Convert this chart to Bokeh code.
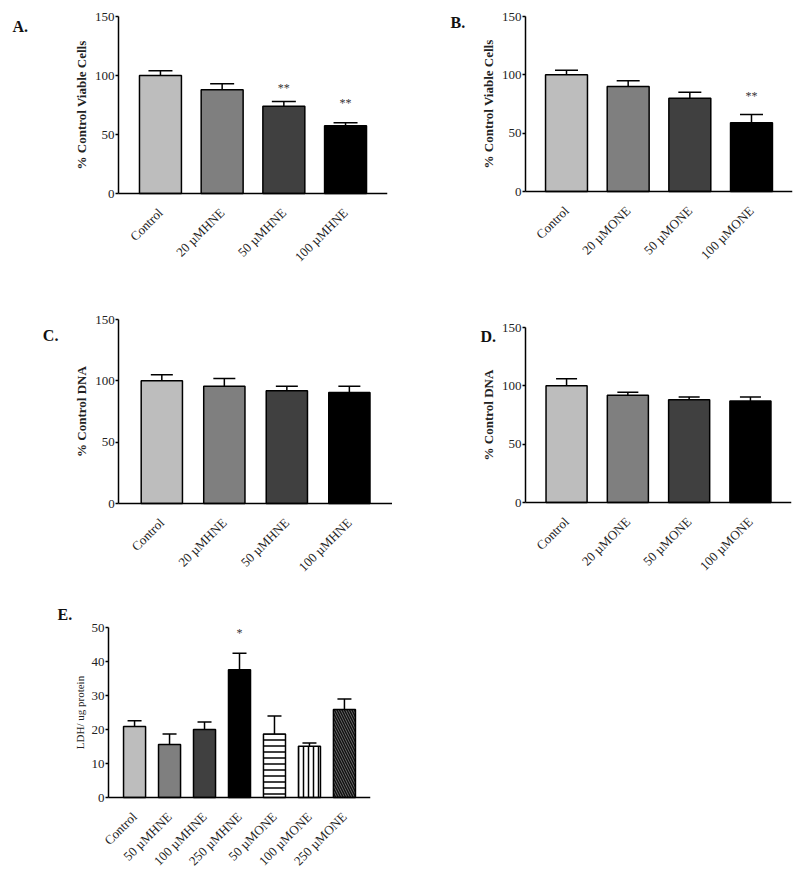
import math
from bokeh.plotting import figure
from bokeh.models import (Whisker, TeeHead, ColumnDataSource, FixedTicker, Range1d)
from bokeh.layouts import column, row
from bokeh.embed import file_html
from bokeh.resources import INLINE
from bokeh.core.properties import value

FONT = "Liberation Serif"

# ---------------- data ----------------
cats_A = ["Control", "20 µMHNE", "50 µMHNE", "100 µMHNE"]
vals_A = [100, 88, 74, 57.5]
errs_A = [4, 5, 4, 2.5]
stars_A = ["", "", "**", "**"]
star_y_A = [0, 0, 89, 76.5]

cats_B = ["Control", "20 µMONE", "50 µMONE", "100 µMONE"]
vals_B = [100, 90, 80, 59]
errs_B = [4, 5, 5, 7]
stars_B = ["", "", "", "**"]
star_y_B = [0, 0, 0, 82]

cats_C = ["Control", "20 µMHNE", "50 µMHNE", "100 µMHNE"]
vals_C = [100, 95.5, 92, 90.5]
errs_C = [5, 6.5, 3.5, 5]

cats_D = ["Control", "20 µMONE", "50 µMONE", "100 µMONE"]
vals_D = [100, 92, 88, 87]
errs_D = [6, 2.5, 2.5, 3.5]

cats_E = ["Control", "50 µMHNE", "100 µMHNE", "250 µMHNE",
          "50 µMONE", "100 µMONE", "250 µMONE"]
vals_E = [20.9, 15.6, 20.0, 37.6, 18.7, 15.1, 25.9]
errs_E = [1.7, 3.1, 2.2, 4.8, 5.3, 0.9, 3.1]
stars_E = ["", "", "", "*", "", "", ""]
star_y_E = [0, 0, 0, 48.5, 0, 0, 0]

ticks_150 = [0, 50, 100, 150]
ticks_50 = [0, 10, 20, 30, 40, 50]

# ---------------- styles ----------------
grey4 = ["#bdbdbd", "#7f7f7f", "#404040", "#000000"]
colors_E = ["#bdbdbd", "#7f7f7f", "#404040", "#000000", "#ffffff", "#ffffff", "#6e6e6e"]
hatch_E = ["blank", "blank", "blank", "blank",
           "horizontal_line", "vertical_line", "left_diagonal_line"]
hatch_col_E = ["black"] * 6 + ["#111111"]
hatch_scale_E = [6, 6, 6, 6, 6, 5, 5]
hatch_weight_E = [1.5, 1.5, 1.5, 1.5, 1.5, 1.5, 1.5]


def panel(cats, vals, errs, colors, ylabel, yticks, geom, bar_w, cap_px,
          letter, letter_px, stars=None, star_y=None, hatch=None,
          label_size="13px", label_bold=True, label_standoff=3):
    # geom: figure W, H; y-axis x (L), x-axis right end (R), y of top tick (T),
    # y of zero (B) in figure pixels; side padding in category units
    W, H, L, R, T, B, side = geom
    n = len(cats)
    ymax = yticks[-1]
    ppu = (R - L) / (n + 2 * side)
    ppy = (B - T) / ymax
    x_axis_start = -0.5 - side
    x_end = n - 0.5 + side
    x_start = x_axis_start - L / ppu
    y_end = ymax + T / ppy
    y_start = -(H - B) / ppy

    p = figure(width=W, height=H,
               x_range=Range1d(x_start, x_end), y_range=Range1d(y_start, y_end),
               output_backend="svg", toolbar_location=None,
               min_border_left=0, min_border_top=0,
               min_border_right=W - R, min_border_bottom=0)
    p.outline_line_color = None
    p.xgrid.visible = False
    p.ygrid.visible = False
    p.background_fill_color = "white"
    p.border_fill_color = "white"

    xs = list(range(n))
    data = dict(x=xs, vals=vals, tops=[v + e for v, e in zip(vals, errs)],
                colors=colors)
    if hatch is not None:
        data.update(hatch)
    src = ColumnDataSource(data)
    kw = dict(x="x", top="vals", width=bar_w, bottom=0, source=src,
              fill_color="colors", line_color="black", line_width=1.5)
    if hatch is not None:
        kw.update(hatch_pattern="hp", hatch_color="hc", hatch_scale="hs",
                  hatch_weight="hw")
    p.vbar(**kw)

    wh = Whisker(base="x", lower="vals", upper="tops", source=src,
                 dimension="height", lower_head=None,
                 upper_head=TeeHead(size=cap_px, line_width=1.5, line_color="black"),
                 line_width=1.5, line_color="black")
    p.add_layout(wh)

    if stars is not None:
        sx = [i for i, s in zip(xs, stars) if s]
        sy = [y for y, s in zip(star_y, stars) if s]
        st = [s for s in stars if s]
        p.text(x=sx, y=sy, text=st, text_font=value(FONT), text_font_size="12px",
               text_align="center", text_baseline="middle", text_color="#333333")

    for ax in (p.xaxis[0], p.yaxis[0]):
        ax.axis_line_width = 1.5
        ax.axis_line_color = "black"
        ax.major_label_text_font = FONT
        ax.major_label_text_font_size = "13px"
        ax.major_label_text_color = "#222222"
        ax.minor_tick_line_color = None
    yax = p.yaxis[0]
    yax.ticker = FixedTicker(ticks=yticks)
    yax.bounds = (0, ymax)
    yax.fixed_location = x_axis_start
    yax.major_tick_out = 3
    yax.major_tick_in = 0
    yax.major_tick_line_width = 1.5
    yax.major_label_standoff = 1
    yax.axis_label = ylabel
    yax.axis_label_text_font = FONT
    yax.axis_label_text_font_size = label_size
    yax.axis_label_text_font_style = "bold" if label_bold else "normal"
    yax.axis_label_text_color = "#222222"
    yax.axis_label_standoff = label_standoff

    xax = p.xaxis[0]
    xax.ticker = FixedTicker(ticks=xs)
    xax.major_label_overrides = {i: c for i, c in zip(xs, cats)}
    xax.bounds = (x_axis_start, x_end)
    xax.fixed_location = 0
    xax.major_tick_line_color = None
    xax.major_label_orientation = math.pi / 4
    xax.major_label_standoff = 11

    # panel letter, placed in data coordinates from its pixel location
    lx = x_start + letter_px[0] / ppu
    ly = y_end - letter_px[1] / ppy
    p.text(x=[lx], y=[ly], text=[letter], text_font=value(FONT),
           text_font_style="bold", text_font_size="16px", text_align="left",
           text_baseline="middle", text_color="#111111")
    return p


pA = panel(cats_A, vals_A, errs_A, grey4, "% Control Viable Cells", ticks_150,
           (392, 290, 118, 387, 16, 193, 0.18), 0.68, 24, "A.", (12, 26),
           stars_A, star_y_A)
pB = panel(cats_B, vals_B, errs_B, grey4, "% Control Viable Cells", ticks_150,
           (408, 290, 133, 400, 16, 191, 0.165), 0.68, 23, "B.", (58, 22),
           stars_B, star_y_B)
pC = panel(cats_C, vals_C, errs_C, grey4, "% Control DNA", ticks_150,
           (392, 290, 120, 398, 29, 213, 0.19), 0.66, 22, "C.", (43, 45))
pD = panel(cats_D, vals_D, errs_D, grey4, "% Control DNA", ticks_150,
           (408, 290, 133, 399, 37, 212, 0.17), 0.67, 21, "D.", (88, 46))
pE = panel(cats_E, vals_E, errs_E, colors_E, "LDH/ ug protein", ticks_50,
           (392, 296, 108, 370, 47, 217, 0.245), 0.63, 14, "E.", (57, 34),
           stars_E, star_y_E,
           hatch=dict(hp=hatch_E, hc=hatch_col_E, hs=hatch_scale_E, hw=hatch_weight_E),
           label_size="11px", label_bold=False, label_standoff=3)

layout = column(row(pA, pB), row(pC, pD), pE)
open("out.html", "w").write(file_html(layout, INLINE))
